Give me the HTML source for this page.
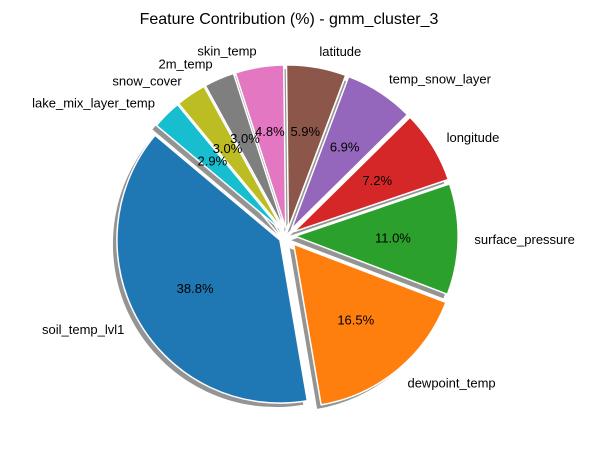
<!DOCTYPE html>
<html><head><meta charset="utf-8"><style>
body{margin:0;background:#fff}
svg text{font-family:"Liberation Sans","DejaVu Sans",sans-serif}
</style></head><body>
<svg id="chart" width="604" height="450" viewBox="0 0 604 450" xmlns="http://www.w3.org/2000/svg">
<text x="289" y="24" text-anchor="middle" font-size="16">Feature Contribution (%) - gmm_cluster_3</text>
<g id="shadows"></g><g id="wedges"></g><g id="labels"></g>
</svg>
<script>
const categories=["soil_temp_lvl1","dewpoint_temp","surface_pressure","longitude","temp_snow_layer","latitude","skin_temp","2m_temp","snow_cover","lake_mix_layer_temp"];
const values=[38.8,16.5,11.0,7.2,6.9,5.9,4.8,3.0,3.0,2.9];
const explodes=[0.05,0.065,0.05,0.05,0.05,0.05,0.05,0.05,0.05,0.05];
const colors=["#1f77b4","#ff7f0e","#2ca02c","#d62728","#9467bd","#8c564b","#e377c2","#7f7f7f","#bcbd22","#17becf"];
const cx=287,cy=236,R=163,start=140;
const ns="http://www.w3.org/2000/svg";
const total=values.reduce((a,b)=>a+b,0);
let a=start;
const sh=document.getElementById('shadows'),wg=document.getElementById('wedges'),lb=document.getElementById('labels');
function pt(x,y,r,deg){const t=deg*Math.PI/180;return [x+r*Math.cos(t),y-r*Math.sin(t)];}
values.forEach((v,i)=>{
  const span=v/total*360,a1=a,a2=a+span,mid=(a1+a2)/2;
  const [ox,oy]=pt(cx,cy,explodes[i]*R,mid);
  const p1=pt(ox,oy,R,a1),p2=pt(ox,oy,R,a2);
  const large=span>180?1:0;
  const d=`M${ox},${oy}L${p1[0]},${p1[1]}A${R},${R} 0 ${large} 0 ${p2[0]},${p2[1]}Z`;
  const s=document.createElementNS(ns,'path');
  s.setAttribute('d',d);s.setAttribute('fill','#000');s.setAttribute('fill-opacity','0.42');
  s.setAttribute('transform','translate(-4,4)');
  
  
  sh.appendChild(s);
  const w=document.createElementNS(ns,'path');
  w.setAttribute('d',d);w.setAttribute('fill',colors[i]);w.setAttribute('stroke','#fff');w.setAttribute('stroke-width','1.5');w.setAttribute('stroke-linejoin','round');
  
  
  wg.appendChild(w);
  const lp=pt(ox,oy,R*1.1,mid);
  const t=document.createElementNS(ns,'text');
  t.setAttribute('x',lp[0]);t.setAttribute('y',lp[1]+4.5);t.setAttribute('font-size','13');
  t.setAttribute('text-anchor',Math.cos(mid*Math.PI/180)>=0?'start':'end');
  t.textContent=categories[i];
  
  
  lb.appendChild(t);
  const pp=pt(ox,oy,R*0.6,mid);
  const q=document.createElementNS(ns,'text');
  q.setAttribute('x',pp[0]);q.setAttribute('y',pp[1]+4.5);q.setAttribute('font-size','13');q.setAttribute('text-anchor','middle');
  q.textContent=v.toFixed(1)+'%';
  
  
  lb.appendChild(q);
  a=a2;
});
</script>
</body></html>
